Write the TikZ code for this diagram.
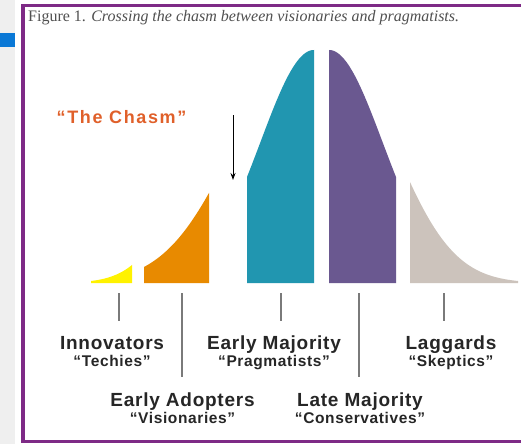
\documentclass[tikz,border=0pt]{standalone}
\usepackage{fontspec}
\setmainfont{Liberation Serif}
\newfontfamily\lblfont[LetterSpace=4]{Liberation Sans}
\newfontfamily\chasmfont[LetterSpace=9]{Liberation Sans}
\usetikzlibrary{positioning,arrows.meta}
\definecolor{framepurple}{HTML}{7E2A86}
\definecolor{sidegray}{HTML}{EFEFEF}
\definecolor{sideblue}{HTML}{0A78D6}
\definecolor{captiongray}{HTML}{505050}
\definecolor{chasmorange}{HTML}{E0602A}
\definecolor{tickgray}{HTML}{7A7A7A}
\definecolor{innovyellow}{HTML}{FFF200}
\definecolor{adoptorange}{HTML}{E88A00}
\definecolor{earlyteal}{HTML}{2196B0}
\definecolor{latepurple}{HTML}{6A5890}
\definecolor{laggardbeige}{HTML}{CCC3BC}
\begin{document}
\begin{tikzpicture}[x=1pt,y=-1pt,
    main/.style = {font=\lblfont\bfseries\fontsize{19}{21}\selectfont, text=black!85, inner sep=0pt, text height=14pt, text depth=4pt, anchor=base},
    sub/.style = {font=\lblfont\bfseries\fontsize{15.5}{17}\selectfont, text=black!85, inner sep=0pt, text height=11.5pt, text depth=3.5pt},
    tick/.style = {draw=tickgray, line width=1.2pt}]
    \useasboundingbox (0,0) rectangle (521,444);
    \fill[white] (0,0) rectangle (521,444);
    \fill[sidegray] (0,0) rectangle (15,444);
    \fill[sideblue] (0,33) rectangle (15,47);
    \draw[framepurple, line width=3.5pt] (23,5.5) rectangle (540,441.5);

    \node[anchor=base west, inner sep=0pt, text=captiongray, font=\fontsize{16}{18}\selectfont] (caption) at (28,22)
        {Figure 1. \textit{Crossing the chasm between visionaries and pragmatists.}};
    \node[anchor=base, inner sep=0pt, text=chasmorange, font=\chasmfont\bfseries\fontsize{18}{20}\selectfont] (chasm) at (121.5,123)
        {“The Chasm”};

    \fill[innovyellow] (91,283) -- plot[domain=91:132, samples=30] (\x,{283-233*exp(-0.5*((\x-244.9)/49.9)^2)}) -- (132,283) -- cycle;
    \fill[adoptorange] (144,283) -- plot[domain=144:209, samples=40] (\x,{283-233*exp(-0.5*((\x-304.8)/69.5)^2)}) -- (209,283) -- cycle;
    \fill[earlyteal] (247,283) -- plot[domain=247:314, samples=40] (\x,{283-233*exp(-0.5*((\x-314)/53.4)^2)}) -- (314,283) -- cycle;
    \fill[latepurple] (329,283) -- plot[domain=329:396, samples=40] (\x,{283-233*exp(-0.5*((\x-329)/53.4)^2)}) -- (396,283) -- cycle;
    \fill[laggardbeige] (410,283) -- plot[domain=410:518, samples=50] (\x,{283-233*exp(-0.5*((\x-332)/60.3)^2)}) -- (518,283) -- cycle;

    \coordinate (arrowtop) at (233,115);
    \coordinate (arrowtip) at (233,180);
    \draw[-{Stealth[length=7pt,width=5pt]}, line width=0.9pt] (arrowtop) -- (arrowtip);

    \foreach \x/\y [count=\i] in {119/321, 182/377, 281/321, 359/377, 444/321} {
        \coordinate (top\i) at (\x,293);
        \coordinate (bot\i) at (\x,\y);
        \draw[tick] (top\i) -- (bot\i);
    }

    \node[main] (innov) at (112,349) {Innovators};
    \node[sub] (techies) [below=2pt of innov] {“Techies”};
    \node[main] (adopt) at (182.5,406) {Early Adopters};
    \node[sub] (vision) [below=2pt of adopt] {“Visionaries”};
    \node[main] (earlymaj) at (274,349) {Early Majority};
    \node[sub] (pragma) [below=2pt of earlymaj] {“Pragmatists”};
    \node[main] (latemaj) at (360,406) {Late Majority};
    \node[sub] (conserv) [below=2pt of latemaj] {“Conservatives”};
    \node[main] (lagg) at (451,349) {Laggards};
    \node[sub] (skeptic) [below=2pt of lagg] {“Skeptics”};
\end{tikzpicture}
\end{document}
